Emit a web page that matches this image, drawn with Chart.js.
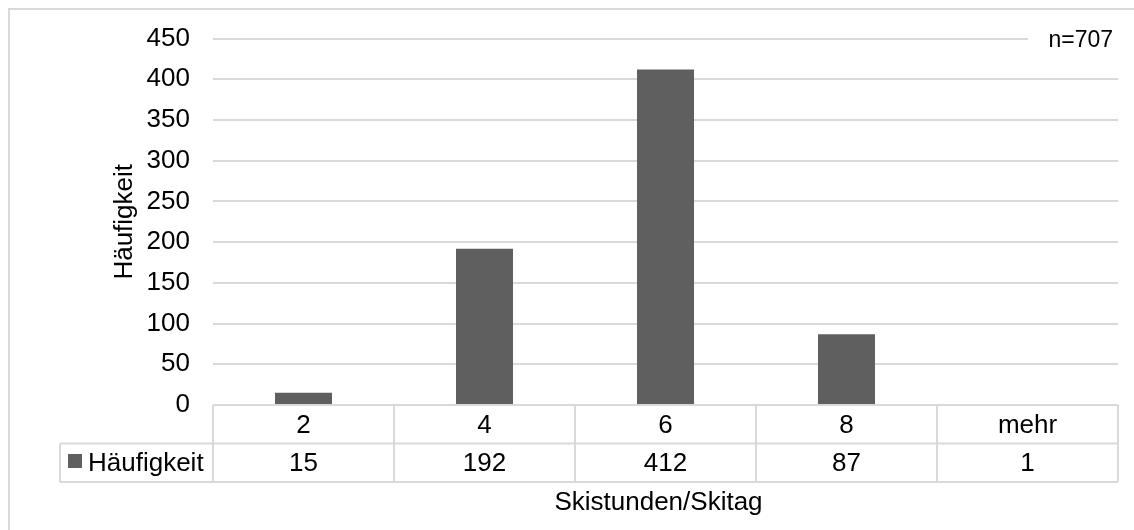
<!DOCTYPE html>
<html lang="de">
<head>
<meta charset="utf-8">
<title>Skistunden pro Skitag</title>
<script src="https://cdn.jsdelivr.net/npm/chart.js@4.4.1/dist/chart.umd.min.js"></script>
<style>
  html, body { margin: 0; padding: 0; background: #ffffff; }
  #wrap { position: relative; width: 1134px; height: 530px; overflow: hidden; }
  canvas { display: block; }
</style>
</head>
<body>
<div id="wrap"><canvas id="chart" width="1134" height="530"></canvas></div>
<script>
// Kategorien (Skistunden pro Skitag) und Häufigkeiten
const categories = ['2', '4', '6', '8', 'mehr'];
const frequencies = [15, 192, 412, 87, 1];
const seriesName = 'Häufigkeit';
const yTicks = [0, 50, 100, 150, 200, 250, 300, 350, 400, 450];
const sampleNote = 'n=707';
const xTitle = 'Skistunden/Skitag';
const yTitle = 'Häufigkeit';

const FONT = '"Liberation Sans", Arial, Helvetica, sans-serif';
const TEXT = '#000000';
const LINE = '#d9d9d9';
const BAR = '#5f5f5f';
const SIZE = 26;

// Datentabelle unter der Grafik, Titel, Rahmen und n-Hinweis
const tablePlugin = {
  id: 'dataTable',
  beforeDraw(chart) {
    const ctx = chart.ctx;
    ctx.save();
    ctx.fillStyle = '#ffffff';
    ctx.fillRect(0, 0, chart.width, chart.height);
    ctx.strokeStyle = LINE;
    ctx.lineWidth = 2;
    ctx.strokeRect(9, 9, chart.width + 40, chart.height + 40);
    ctx.restore();
  },
  afterDraw(chart) {
    const ctx = chart.ctx;
    const area = chart.chartArea;
    const x = chart.scales.x;
    const n = categories.length;
    const step = (area.right - area.left) / n;
    const rowH = 38.5;
    const top = area.bottom;
    const mid = top + rowH;
    const bottom = mid + rowH;
    const legendLeft = 60;

    ctx.save();
    ctx.strokeStyle = LINE;
    ctx.lineWidth = 2;
    ctx.beginPath();
    ctx.moveTo(area.left, top); ctx.lineTo(area.right, top);
    ctx.moveTo(legendLeft, mid); ctx.lineTo(area.right, mid);
    ctx.moveTo(legendLeft, bottom); ctx.lineTo(area.right, bottom);
    ctx.moveTo(legendLeft, mid); ctx.lineTo(legendLeft, bottom);
    for (let i = 0; i <= n; i++) {
      const px = i < n ? x.getPixelForValue(i) - step / 2 : x.getPixelForValue(n - 1) + step / 2;
      ctx.moveTo(px, top); ctx.lineTo(px, bottom);
    }
    ctx.stroke();

    // Zellinhalte
    ctx.fillStyle = TEXT;
    ctx.font = SIZE + 'px ' + FONT;
    ctx.textAlign = 'center';
    ctx.textBaseline = 'alphabetic';
    categories.forEach((c, i) => {
      const cx = x.getPixelForValue(i);
      ctx.fillText(c, cx, top + 28);
      ctx.fillText(String(frequencies[i]), cx, mid + 27.5);
    });

    // Legendenzelle
    ctx.fillStyle = BAR;
    ctx.fillRect(legendLeft + 8, mid + 10.5, 14, 14);
    ctx.fillStyle = TEXT;
    ctx.textAlign = 'left';
    ctx.fillText(seriesName, legendLeft + 28, mid + 27.5);

    // Achsentitel
    ctx.textAlign = 'center';
    ctx.fillText(xTitle, (area.left + area.right) / 2 - 7, 510);
    ctx.save();
    ctx.translate(132, (area.top + area.bottom) / 2);
    ctx.rotate(-Math.PI / 2);
    ctx.fillText(yTitle, 0, 0);
    ctx.restore();

    // Stichprobengröße oben rechts
    ctx.fillStyle = '#ffffff';
    ctx.fillRect(1028, area.top - 12, area.right - 1028 + 4, 24);
    ctx.fillStyle = TEXT;
    ctx.font = '23px ' + FONT;
    ctx.textAlign = 'right';
    ctx.fillText(sampleNote, 1113, area.top + 8);
    ctx.restore();
  }
};

new Chart(document.getElementById('chart'), {
  type: 'bar',
  data: {
    labels: categories,
    datasets: [{
      label: seriesName,
      data: frequencies,
      backgroundColor: BAR,
      borderWidth: 0,
      barPercentage: 0.315,
      categoryPercentage: 1.0
    }]
  },
  options: {
    responsive: false,
    devicePixelRatio: 1,
    animation: false,
    layout: { padding: { top: 36, right: 16, left: 0, bottom: 0 } },
    plugins: {
      legend: { display: false },
      tooltip: { enabled: false },
      title: { display: false }
    },
    scales: {
      x: {
        grid: { display: false, drawTicks: false },
        border: { display: false },
        ticks: { display: false },
        afterFit(scale) { scale.height = 125; }
      },
      y: {
        min: yTicks[0],
        max: yTicks[yTicks.length - 1],
        afterBuildTicks(scale) { scale.ticks = yTicks.map(v => ({ value: v })); },
        grid: { color: LINE, lineWidth: 2, drawTicks: false },
        border: { display: false },
        ticks: {
          padding: 23,
          color: TEXT,
          font: { family: FONT, size: SIZE }
        },
        afterFit(scale) { scale.width = 213; }
      }
    }
  },
  plugins: [tablePlugin]
});
</script>
</body>
</html>
